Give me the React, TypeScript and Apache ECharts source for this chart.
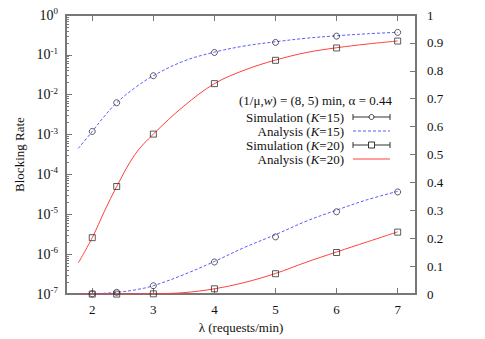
import React, { useEffect, useRef } from "react";
import * as echarts from "echarts";

const xSim = [2, 2.4, 3, 4, 5, 6, 7];
const simK15 = [1.2e-3, 6.3e-3, 0.03, 0.115, 0.205, 0.295, 0.366];
const simK20 = [2.6e-6, 5.0e-5, 1.03e-3, 0.019, 0.073, 0.149, 0.222];

const xAna = [1.77, 2, 2.2, 2.4, 2.7, 3, 3.5, 4, 4.5, 5, 5.5, 6, 6.5, 7];
const anaK15 = [4.5e-4, 1.2e-3, 2.9e-3, 6.3e-3, 0.015, 0.03, 0.07, 0.117, 0.168, 0.213, 0.261, 0.301, 0.338, 0.368];
const anaK20 = [6.0e-7, 2.6e-6, 1.2e-5, 5.0e-5, 3.2e-4, 1.03e-3, 5.2e-3, 0.019, 0.042, 0.074, 0.114, 0.151, 0.187, 0.223];

const xTicks = [2, 3, 4, 5, 6, 7];
const logMinor: number[] = [];
for (let n = -7; n < 0; n++) for (let k = 2; k <= 9; k++) logMinor.push(k * Math.pow(10, n));

const FONT = "'Liberation Serif', 'DejaVu Serif', 'Times New Roman', serif";
const AXIS = "#777";
const MARK = "#333";
const BLUE = "#5a5aff";
const RED = "#ff4040";

const pairs = (xs: number[], ys: number[]) => xs.map((x, i) => [x, ys[i]]);

export default function App() {
  const ref = useRef<HTMLDivElement>(null);
  useEffect(() => {
    if (!ref.current) return;
    const chart = echarts.init(ref.current, null, { renderer: "svg" });
    const sim = (name: string, data: number[][], symbol: string, yAxisIndex: number) => ({
      name,
      type: "scatter",
      yAxisIndex,
      data,
      symbol,
      symbolSize: 6,
      itemStyle: { color: "rgba(0,0,0,0)", borderColor: MARK, borderWidth: 1 },
      z: 5,
    });
    const ana = (name: string, data: number[][], color: string, type: string, yAxisIndex: number) => ({
      name,
      type: "line",
      yAxisIndex,
      data,
      smooth: 0.35,
      showSymbol: false,
      lineStyle: { color, width: 1, type: type === "dashed" ? [3, 2] : "solid" },
      z: 3,
    });
    const sRight = 353, sLeft = 390;
    const legendRows = [117, 131, 145, 159];
    const capH = 3;
    const simIcon = (y: number, marker: any) => [
      { type: "line", shape: { x1: sRight, y1: y, x2: sLeft, y2: y }, style: { stroke: MARK, lineWidth: 1 } },
      { type: "line", shape: { x1: sRight, y1: y - capH, x2: sRight, y2: y + capH }, style: { stroke: MARK, lineWidth: 1 } },
      { type: "line", shape: { x1: sLeft, y1: y - capH, x2: sLeft, y2: y + capH }, style: { stroke: MARK, lineWidth: 1 } },
      marker,
    ];
    const rich = { i: { fontStyle: "italic", fontFamily: FONT, fontSize: 13, lineHeight: 12, fill: "#111" } };
    const legendText = (txt: string, y: number) => ({
      type: "text",
      x: 344,
      y,
      style: { text: txt, rich, fontFamily: FONT, fontSize: 13, lineHeight: 12, fill: "#111", align: "right", verticalAlign: "middle" },
    });
    chart.setOption({
      animation: false,
      backgroundColor: "#fff",
      textStyle: { fontFamily: FONT },
      grid: { left: 66, right: 69, top: 15, bottom: 43 },
      xAxis: [
        {
          type: "value",
          position: "bottom",
          min: 1.57,
          max: 7.3,
          name: "λ (requests/min)",
          nameLocation: "middle",
          nameGap: 20,
          nameTextStyle: { fontFamily: FONT, fontSize: 13, color: "#111" },
          axisLine: { show: true, lineStyle: { color: AXIS, width: 2 } },
          axisTick: { show: true, inside: true, length: 6, customValues: xTicks, lineStyle: { color: AXIS } },
          axisLabel: { customValues: xTicks, fontFamily: FONT, fontSize: 13, color: "#111", margin: 9 },
          splitLine: { show: false },
        },
        {
          type: "value",
          position: "top",
          min: 1.57,
          max: 7.3,
          axisLine: { show: true, lineStyle: { color: AXIS, width: 2 } },
          axisTick: { show: true, inside: true, length: 6, customValues: xTicks, lineStyle: { color: AXIS } },
          axisLabel: { show: false },
          splitLine: { show: false },
        },
      ],
      yAxis: [
        {
          type: "log",
          logBase: 10,
          position: "left",
          min: 1e-7,
          max: 1,
          name: "Blocking Rate",
          nameLocation: "middle",
          nameGap: 39,
          nameTextStyle: { fontFamily: FONT, fontSize: 13, color: "#111" },
          axisLine: { show: true, lineStyle: { color: AXIS, width: 2 } },
          axisTick: { show: true, inside: true, length: 6, lineStyle: { color: AXIS } },
          axisLabel: {
            fontFamily: FONT,
            fontSize: 14,
            color: "#111",
            margin: 8,
            formatter: (v: number) => `10{sup|${Math.round(Math.log10(v))}}`,
            rich: { sup: { fontFamily: FONT, fontSize: 9, color: "#111", verticalAlign: "top", padding: [0, 0, 8, 0] } },
          },
          splitLine: { show: false },
        },
        {
          type: "value",
          position: "right",
          min: 0,
          max: 1,
          interval: 0.1,
          axisLine: { show: true, lineStyle: { color: AXIS, width: 2 } },
          axisTick: { show: true, inside: true, length: 6, lineStyle: { color: AXIS } },
          axisLabel: { fontFamily: FONT, fontSize: 13, color: "#111", margin: 11 },
          splitLine: { show: false },
        },
        {
          type: "log",
          logBase: 10,
          position: "left",
          min: 1e-7,
          max: 1,
          axisLine: { show: false },
          axisTick: { show: true, inside: true, length: 3, customValues: logMinor, lineStyle: { color: AXIS } },
          axisLabel: { show: false },
          splitLine: { show: false },
        },
      ],
      series: [
        ana("Analysis (K=15)", pairs(xAna, anaK15), BLUE, "dashed", 0),
        ana("Analysis (K=20)", pairs(xAna, anaK20), RED, "solid", 0),
        ana("Analysis (K=15) lin", pairs(xAna, anaK15), BLUE, "dashed", 1),
        ana("Analysis (K=20) lin", pairs(xAna, anaK20), RED, "solid", 1),
        sim("Simulation (K=15)", pairs(xSim, simK15), "circle", 0),
        sim("Simulation (K=20)", pairs(xSim, simK20), "rect", 0),
        sim("Simulation (K=15) lin", pairs(xSim, simK15), "circle", 1),
        sim("Simulation (K=20) lin", pairs(xSim, simK20), "rect", 1),
      ],
      graphic: [
        {
          type: "text",
          x: 392,
          y: 100,
          style: {
            text: "(1/μ,{i|w}) = (8, 5) min, α = 0.44",
            rich,
            fontFamily: FONT,
            fontSize: 13,
            lineHeight: 12,
            fill: "#111",
            align: "right",
            verticalAlign: "middle",
          },
        },
        legendText("Simulation ({i|K}=15)", legendRows[0]),
        legendText("Analysis ({i|K}=15)", legendRows[1]),
        legendText("Simulation ({i|K}=20)", legendRows[2]),
        legendText("Analysis ({i|K}=20)", legendRows[3]),
        ...simIcon(legendRows[0], {
          type: "circle",
          shape: { cx: (sRight + sLeft) / 2, cy: legendRows[0], r: 2.5 },
          style: { fill: "#fff", stroke: MARK, lineWidth: 1 },
        }),
        {
          type: "line",
          shape: { x1: sRight, y1: legendRows[1], x2: sLeft, y2: legendRows[1] },
          style: { stroke: BLUE, lineWidth: 1, lineDash: [3, 2] },
        },
        ...simIcon(legendRows[2], {
          type: "rect",
          shape: { x: (sRight + sLeft) / 2 - 3, y: legendRows[2] - 3, width: 6, height: 6 },
          style: { fill: "#fff", stroke: MARK, lineWidth: 1 },
        }),
        {
          type: "line",
          shape: { x1: sRight, y1: legendRows[3], x2: sLeft, y2: legendRows[3] },
          style: { stroke: RED, lineWidth: 1 },
        },
      ],
    });
    return () => chart.dispose();
  }, []);
  return <div ref={ref} style={{ width: 485, height: 339, position: "absolute", left: 0, top: 0 }} />;
}
